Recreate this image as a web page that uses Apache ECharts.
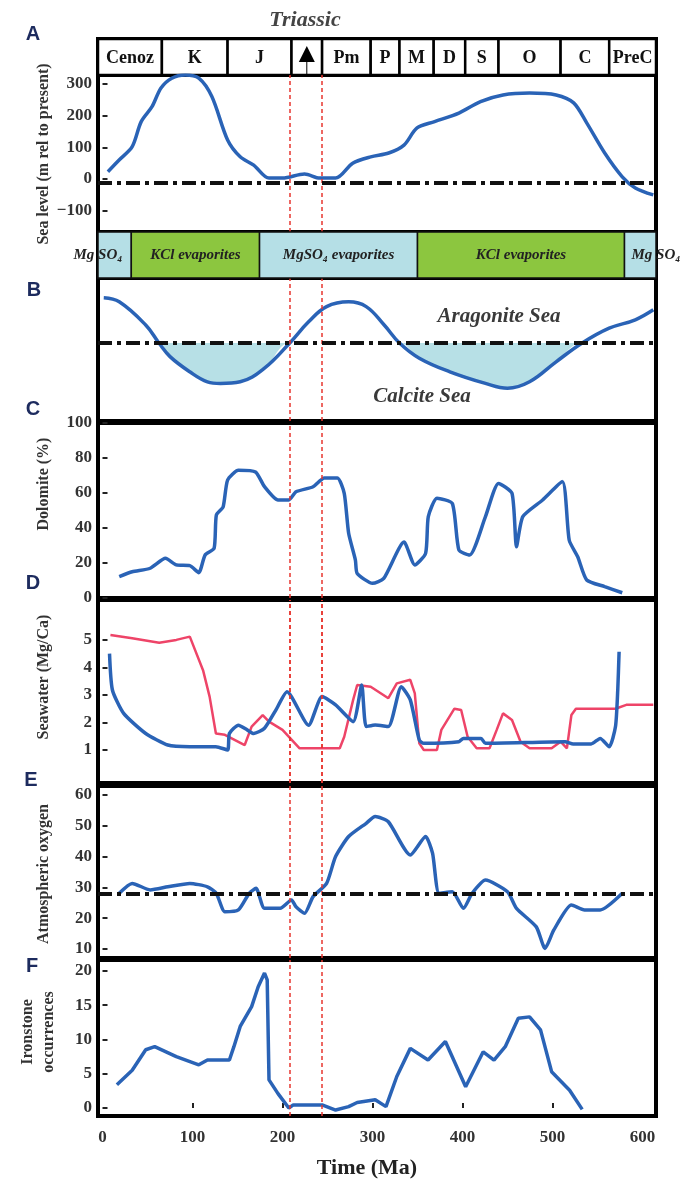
<!DOCTYPE html>
<html>
<head>
    <meta charset="utf-8">
    <title>Triassic</title>
    <script src="https://cdn.jsdelivr.net/npm/echarts@6/dist/echarts.min.js"></script>
    <style>
        html, body, #main {
            width: 100%;
            height: 100%;
            margin: 0;
            background: #fff;
        }
    </style>
</head>
<body>
    <div id="main"></div>
    <script type="text/javascript">
        // time axis (Ma) shared by all panels
        var AGE_MIN = -5, AGE_MAX = 615;
        var timeTicks = [0, 100, 200, 300, 400, 500, 600];

        // geological periods in the header row
        var periodNames = ['Cenoz', 'K', 'J', '▲', 'Pm', 'P', 'M', 'D', 'S', 'O', 'C', 'PreC'];
        var periodBounds = [-5, 66, 139, 210, 244, 298, 330, 368, 403, 440, 509, 563, 615];

        // evaporite band
        var evapNames = ['Mg SO₄', 'KCl evaporites', 'MgSO₄ evaporites', 'KCl evaporites', 'Mg SO₄'];
        var evapKinds = ['mg', 'kcl', 'mg', 'kcl', 'mg'];
        var evapBounds = [-5, 32, 174.5, 350, 580, 615];

        // Triassic limits (red dashed lines)
        var triassicLines = [208, 244];

        // A: sea level (m rel to present)
        var seaAge = [6, 18.5, 33, 43, 55, 65, 77, 92, 107, 121.5, 139, 153, 168, 185, 200, 224.5, 241.5, 259, 278, 298, 318, 335, 349.5, 369, 396, 420, 445, 474.5, 504, 523.5, 538, 558, 577.5, 592, 612];
        var seaLevel = [23, 60, 102, 181, 228, 287, 318, 328, 318, 260, 123, 70, 44, 3, 3, 16, 3, 3, 50, 70, 82, 107, 161, 181, 208, 244, 265, 271, 265, 240, 177, 82, 7, -28, -50];
        var seaRef = -12;

        // B: aragonite / calcite sea index
        var calAge = [1.4, 18.6, 48, 62.7, 75, 97, 116.6, 131, 153, 180, 208, 229, 249, 273.5, 293, 313, 330, 352, 386, 425.5, 450, 474.5, 504, 533, 563, 592, 612];
        var calIdx = [1.13, 1.03, 0.45, 0, -0.34, -0.72, -0.97, -1.01, -0.97, -0.63, 0, 0.53, 0.91, 1.03, 0.91, 0.45, 0, -0.38, -0.72, -1.01, -1.13, -0.97, -0.47, 0, 0.37, 0.58, 0.83];

        // C: dolomite (%)
        var dolAge = [18.6, 33, 53, 70, 82, 97, 107, 114, 124, 126.5, 134, 139, 151, 170, 180, 195, 207, 215, 234, 246.5, 261, 268.6, 273.5, 281, 283, 300, 312.5, 335, 347, 359, 362, 371.6, 388.7, 396, 408, 425.5, 440, 455, 460, 467, 489, 511, 518.6, 528, 538, 558, 577.5];
        var dolomite = [12.2, 15, 17, 22.7, 18.9, 18.5, 14.5, 24.6, 28.4, 47.4, 52, 67.4, 73, 72, 63.6, 56, 56, 60.7, 63.6, 68.6, 68.6, 59.8, 37, 21.7, 14, 8.4, 11.2, 32, 18.9, 25.5, 46.5, 57, 54, 27.4, 24.6, 46.5, 65.5, 59.8, 29.3, 46.5, 56, 66.5, 33, 23.6, 10.3, 6.5, 3];

        // D: seawater Mg/Ca
        var mgRedAge = [8.8, 33, 63, 82, 97, 111.7, 119, 126, 136, 158, 165.7, 178, 185, 200, 219, 263.6, 268.6, 278.5, 283, 298, 317.6, 327, 342, 347, 352, 357, 371.6, 376.5, 391, 398.5, 405.7, 415.7, 430, 438, 445, 455, 464.5, 474.5, 499, 509, 516, 521, 526, 570, 582, 612];
        var mgRed = [5.18, 5.06, 4.9, 5.0, 5.12, 3.9, 2.94, 1.6, 1.55, 1.18, 1.85, 2.27, 2.03, 1.73, 1.06, 1.06, 1.48, 2.82, 3.36, 3.3, 2.88, 3.42, 3.55, 3.06, 1.24, 1.0, 1.0, 1.73, 2.5, 2.45, 1.48, 1.06, 1.06, 1.73, 2.33, 2.09, 1.3, 1.06, 1.06, 1.3, 1.06, 2.27, 2.5, 2.5, 2.64, 2.64];
        var mgBlueAge = [7.8, 11, 23.5, 48, 72.5, 97, 126, 139, 141, 151, 160.7, 168, 180, 192.6, 205, 229, 244, 259, 278.5, 288, 293, 303, 317.6, 332, 342, 352, 357, 396, 401, 420.6, 425.5, 514, 523, 543, 553, 563, 570, 572.5, 574];
        var mgBlue = [4.5, 3.18, 2.33, 1.6, 1.18, 1.12, 1.12, 1.0, 1.6, 1.9, 1.73, 1.6, 1.79, 2.45, 3.12, 1.9, 2.94, 2.64, 2.03, 3.36, 1.85, 1.91, 1.85, 3.3, 2.82, 1.36, 1.24, 1.3, 1.42, 1.42, 1.24, 1.3, 1.22, 1.22, 1.42, 1.12, 1.85, 3.18, 4.57];

        // E: atmospheric oxygen
        var o2Age = [18.6, 33, 53, 72.5, 97, 116.6, 126.4, 136, 151, 163, 170.6, 180, 197.5, 210, 215, 224.5, 234, 249, 259, 273.5, 293, 303, 317.6, 342, 359, 366.7, 374, 388.7, 401, 410.7, 425.5, 450, 460, 482, 491.7, 501.5, 521, 535.6, 553, 577.5];
        var o2 = [28.1, 31.3, 29.2, 30.2, 31.3, 30.2, 28.1, 22.1, 22.7, 28.1, 29.7, 23.2, 23.2, 25.9, 23.7, 21.6, 27, 31.3, 40, 46.5, 50.8, 53, 51.3, 40.5, 46.5, 41.1, 28.1, 28.6, 23.2, 28.1, 32.4, 28.6, 23.2, 17.2, 10.2, 16.2, 24.3, 22.7, 22.7, 28.1];
        var o2Ref = 28;

        // F: ironstone occurrences
        var ironAge = [16, 33, 48, 58, 82, 107, 116.6, 141, 146, 153, 165.7, 173, 180, 183, 185, 195, 207, 212, 244, 259, 273.5, 283, 303, 315, 327, 342, 361.7, 381, 403.5, 423, 435, 447.5, 462, 474.5, 486.7, 499, 519, 533];
        var iron = [3.4, 5.5, 8.5, 8.95, 7.5, 6.3, 7.0, 7.0, 8.95, 11.9, 14.8, 17.7, 19.7, 18.7, 4.1, 2.1, 0, 0.45, 0.45, -0.3, 0.2, 0.8, 1.2, 0.2, 4.6, 8.7, 7.0, 9.7, 3.1, 8.2, 7.0, 8.95, 13.1, 13.3, 11.4, 5.3, 2.6, -0.2];

        var SERIF = '"Liberation Serif", "DejaVu Serif", serif';
        var BLUE = '#2a63b6';
        var RED = '#ee4468';

        function pairs(xs, ys) {
            return xs.map(function (x, i) { return [x, ys[i]]; });
        }
        function cells(bounds) {
            var out = [];
            for (var i = 0; i < bounds.length - 1; i++) out.push([bounds[i], bounds[i + 1]]);
            return out;
        }

        var myChart = echarts.init(document.getElementById('main'));

        // panel frames: header, A, evaporites, B, C, D, E, F
        var panels = [
            { top: 39, height: 36 },
            { top: 75, height: 157 },
            { top: 232, height: 46 },
            { top: 278, height: 143 },
            { top: 423, height: 175 },
            { top: 600, height: 183 },
            { top: 786, height: 172 },
            { top: 960, height: 156 }
        ];
        var grids = panels.map(function (p) {
            return { left: 98, right: 33, top: p.top, height: p.height, show: true,
                     borderColor: '#000', borderWidth: 4, backgroundColor: '#fff' };
        });

        var xAxes = panels.map(function (p, i) {
            var last = i === panels.length - 1;
            return {
                type: 'value', gridIndex: i, min: AGE_MIN, max: AGE_MAX,
                show: last,
                axisLine: { show: false },
                splitLine: { show: false },
                axisTick: { show: last, inside: true, length: 5, customValues: [100, 200, 300, 400, 500],
                            lineStyle: { color: '#222', width: 2 } },
                axisLabel: { show: last, customValues: timeTicks, margin: 13,
                             fontFamily: SERIF, fontWeight: 'bold', fontSize: 17, color: '#333' }
            };
        });

        function yAxis(i, min, max, ticks, fmt) {
            var shown = !!ticks;
            return {
                type: 'value', gridIndex: i, min: min, max: max,
                show: shown,
                axisLine: { show: false },
                splitLine: { show: false },
                axisTick: { show: shown, inside: true, length: 5, customValues: ticks || [],
                            lineStyle: { color: '#222', width: 2 } },
                axisLabel: { show: shown, customValues: ticks || [], margin: 6,
                             fontFamily: SERIF, fontWeight: 'bold', fontSize: 17, color: '#333',
                             formatter: fmt || function (v) { return v < 0 ? '−' + Math.abs(v) : String(v); } }
            };
        }
        var yAxes = [
            yAxis(0, 0, 1, null),
            yAxis(1, -167, 328, [-100, 0, 100, 200, 300]),
            yAxis(2, 0, 1, null),
            yAxis(3, -1.95, 1.625, null),
            yAxis(4, 0, 100, [0, 20, 40, 60, 80, 100]),
            yAxis(5, -0.2, 6.45, [1, 2, 3, 4, 5]),
            yAxis(6, 7.1, 62.9, [10, 20, 30, 40, 50, 60]),
            yAxis(7, -1.17, 21.6, [0, 5, 10, 15, 20])
        ];

        function redDash(v) {
            return { xAxis: v, lineStyle: { color: '#e8362f', width: 1.5, type: [4, 3] } };
        }
        function dashDot(v) {
            return { yAxis: v, lineStyle: { color: '#111', width: 4, type: [14, 5, 4, 5] } };
        }
        function marks(refY) {
            var d = triassicLines.map(redDash);
            if (refY !== undefined) d.push(dashDot(refY));
            return { silent: true, symbol: ['none', 'none'], label: { show: false }, data: d };
        }

        function renderPeriod(params, api) {
            var a = api.coord([api.value(0), 1]);
            var b = api.coord([api.value(1), 0]);
            var name = periodNames[params.dataIndex];
            var cx = (a[0] + b[0]) / 2, cy = (a[1] + b[1]) / 2;
            var kids = [{
                type: 'rect',
                shape: { x: a[0], y: a[1], width: b[0] - a[0], height: b[1] - a[1] },
                style: { fill: '#fff', stroke: '#000', lineWidth: 2.5 }
            }];
            if (name === '▲') {
                kids.push({ type: 'line', shape: { x1: cx, y1: a[1] + 20, x2: cx, y2: b[1] },
                            style: { stroke: '#000', lineWidth: 1 } });
                kids.push({ type: 'polygon', shape: { points: [[cx, a[1] + 7], [cx - 8, a[1] + 23], [cx + 8, a[1] + 23]] },
                            style: { fill: '#000' } });
            } else {
                kids.push({ type: 'text', x: cx, y: cy + 1,
                            style: { text: name, align: 'center', verticalAlign: 'middle',
                                     textAlign: 'center', textVerticalAlign: 'middle',
                                     fontFamily: SERIF, fontWeight: 'bold', fontSize: 18, fill: '#111' } });
            }
            return { type: 'group', children: kids };
        }

        function renderEvap(params, api) {
            var a = api.coord([api.value(0), 1]);
            var b = api.coord([api.value(1), 0]);
            var i = params.dataIndex;
            var cx = (a[0] + b[0]) / 2, cy = (a[1] + b[1]) / 2;
            if (i === 0) cx = a[0];
            if (i === evapNames.length - 1) cx = b[0];
            return { type: 'group', children: [{
                type: 'rect',
                shape: { x: a[0], y: a[1], width: b[0] - a[0], height: b[1] - a[1] },
                style: { fill: evapKinds[i] === 'mg' ? '#b5dfe6' : '#8cc63f', stroke: '#111', lineWidth: 1.5 }
            }, {
                type: 'text', x: cx, y: cy,
                style: { text: evapNames[i], align: 'center', verticalAlign: 'middle',
                         textAlign: 'center', textVerticalAlign: 'middle',
                         fontFamily: SERIF, fontWeight: 'bold', fontStyle: 'italic', fontSize: 15, fill: '#222' }
            }] };
        }

        var lineBase = { type: 'line', showSymbol: false, symbol: 'none', silent: true };
        function line(i, data, color, width, smooth, refY) {
            return Object.assign({}, lineBase, {
                xAxisIndex: i, yAxisIndex: i, data: data, smooth: smooth,
                lineStyle: { color: color, width: width }, markLine: marks(refY), z: 3
            });
        }

        var calFill = calIdx.map(function (v) { return Math.min(v, 0); });

        var series = [
            { type: 'custom', xAxisIndex: 0, yAxisIndex: 0, renderItem: renderPeriod,
              data: cells(periodBounds), silent: true, clip: false },
            line(1, pairs(seaAge, seaLevel), BLUE, 3.5, 0.3, seaRef),
            { type: 'custom', xAxisIndex: 2, yAxisIndex: 2, renderItem: renderEvap,
              data: cells(evapBounds), silent: true, clip: false, z: 5 },
            Object.assign({}, lineBase, { xAxisIndex: 3, yAxisIndex: 3, data: pairs(calAge, calFill),
              smooth: 0.4, lineStyle: { width: 0, opacity: 0 },
              areaStyle: { color: '#b7e0e6', opacity: 1 }, z: 2 }),
            line(3, pairs(calAge, calIdx), BLUE, 3.5, 0.4, 0),
            line(4, pairs(dolAge, dolomite), BLUE, 3.5, 0.2),
            line(5, pairs(mgRedAge, mgRed), RED, 2.5, false),
            line(5, pairs(mgBlueAge, mgBlue), BLUE, 3.5, 0.2),
            line(6, pairs(o2Age, o2), BLUE, 3.5, 0.2, o2Ref),
            line(7, pairs(ironAge, iron), BLUE, 3.5, false)
        ];

        function label(x, y, text, size, extra) {
            return Object.assign({ type: 'text', x: x, y: y, z: 100, silent: true,
                style: Object.assign({ text: text, align: 'center', verticalAlign: 'middle',
                    textAlign: 'center', textVerticalAlign: 'middle',
                    fontFamily: SERIF, fontWeight: 'bold', fontSize: size, fill: '#333' }, extra || {}) });
        }
        function sideName(x, y, text, size) {
            var t = label(x, y, text, size, { lineHeight: 21 });
            t.rotation = Math.PI / 2;
            return t;
        }
        function letter(x, y, text) {
            return label(x, y, text, 20, { fontFamily: '"Liberation Sans", Arial, sans-serif', fill: '#1d2b5e' });
        }

        var option = {
            animation: false,
            backgroundColor: '#fff',
            grid: grids,
            xAxis: xAxes,
            yAxis: yAxes,
            series: series,
            graphic: [
                label(305, 20, 'Triassic', 22, { fontStyle: 'italic', fill: '#444' }),
                label(367, 1168, 'Time (Ma)', 22, { fill: '#222' }),
                label(499, 317, 'Aragonite Sea', 21, { fontStyle: 'italic', fill: '#3a3a3a' }),
                label(422, 397, 'Calcite Sea', 21, { fontStyle: 'italic', fill: '#3a3a3a' }),
                sideName(44, 154, 'Sea level (m rel to present)', 16),
                sideName(44, 484, 'Dolomite (%)', 16),
                sideName(44, 677, 'Seawater (Mg/Ca)', 16),
                sideName(44, 874, 'Atmospheric oxygen', 16),
                sideName(38, 1032, 'Ironstone\noccurrences', 16),
                letter(33, 34, 'A'),
                letter(34, 290, 'B'),
                letter(33, 409, 'C'),
                letter(33, 583, 'D'),
                letter(31, 780, 'E'),
                letter(32, 966, 'F')
            ]
        };
        myChart.setOption(option);
        window.onresize = myChart.resize;
    </script>
</body>
</html>
